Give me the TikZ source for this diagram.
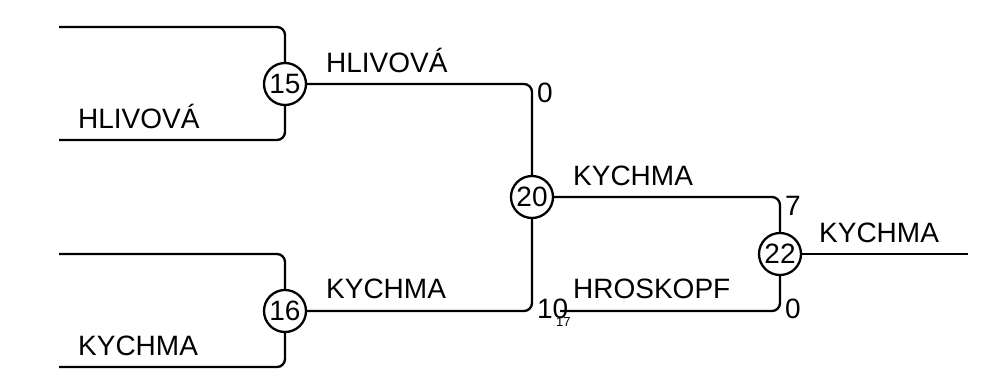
\documentclass[tikz,border=0pt]{standalone}
\usepackage{fontspec}
\setmainfont{Liberation Sans}
\usepackage{tikz}

\begin{document}
\begin{tikzpicture}[x=1pt, y=-1pt, line width=2.3pt]
    \tikzstyle{match} = [circle, draw=black, fill=white, minimum size=42pt, inner sep=0pt, font=\fontsize{28}{30}\selectfont]
    \tikzstyle{team} = [anchor=base west, inner sep=0pt, font=\fontsize{28}{30}\selectfont]
    \tikzstyle{score} = [anchor=base west, inner sep=0pt, font=\fontsize{28}{30}\selectfont]
    \tikzstyle{tiny} = [anchor=base west, inner sep=0pt, font=\fontsize{13}{15}\selectfont]
    \tikzstyle{wire} = [rounded corners=8pt]

    \useasboundingbox (0,0) rectangle (983,370);

    % Matches
    \node [match] (m15) at (285,84) {15};
    \node [match] (m16) at (285,311) {16};
    \node [match] (m20) at (532,197) {20};
    \node [match] (m22) at (780,254) {22};

    % Free ends
    \coordinate (t15a) at (59,27);
    \coordinate (t15b) at (59,140);
    \coordinate (t16a) at (59,254);
    \coordinate (t16b) at (59,367);
    \coordinate (bye) at (560,311);
    \coordinate (final) at (968,254);

    % Lines
    \draw [wire] (t15a) -| (m15);
    \draw [wire] (t15b) -| (m15);
    \draw [wire] (t16a) -| (m16);
    \draw [wire] (t16b) -| (m16);
    \draw [wire] (m15) -| (m20);
    \draw [wire] (m16) -| (m20);
    \draw [wire] (m20) -| (m22);
    \draw [wire] (bye) -| (m22);
    \draw (m22) -- (final);

    % Team names
    \node [team] at (77,128) {HLIVOVÁ};
    \node [team] at (77,355) {KYCHMA};
    \node [team] at (325,72) {HLIVOVÁ};
    \node [team] at (325,298) {KYCHMA};
    \node [team] at (572,185) {KYCHMA};
    \node [team] at (572,298) {HROSKOPF};
    \node [team] at (818,242) {KYCHMA};

    % Scores
    \node [score] at (536,102) {0};
    \node [score] at (536,318) {10};
    \node [tiny] at (555,326) {17};
    \node [score] at (784,215) {7};
    \node [score] at (784,318) {0};
\end{tikzpicture}
\end{document}
